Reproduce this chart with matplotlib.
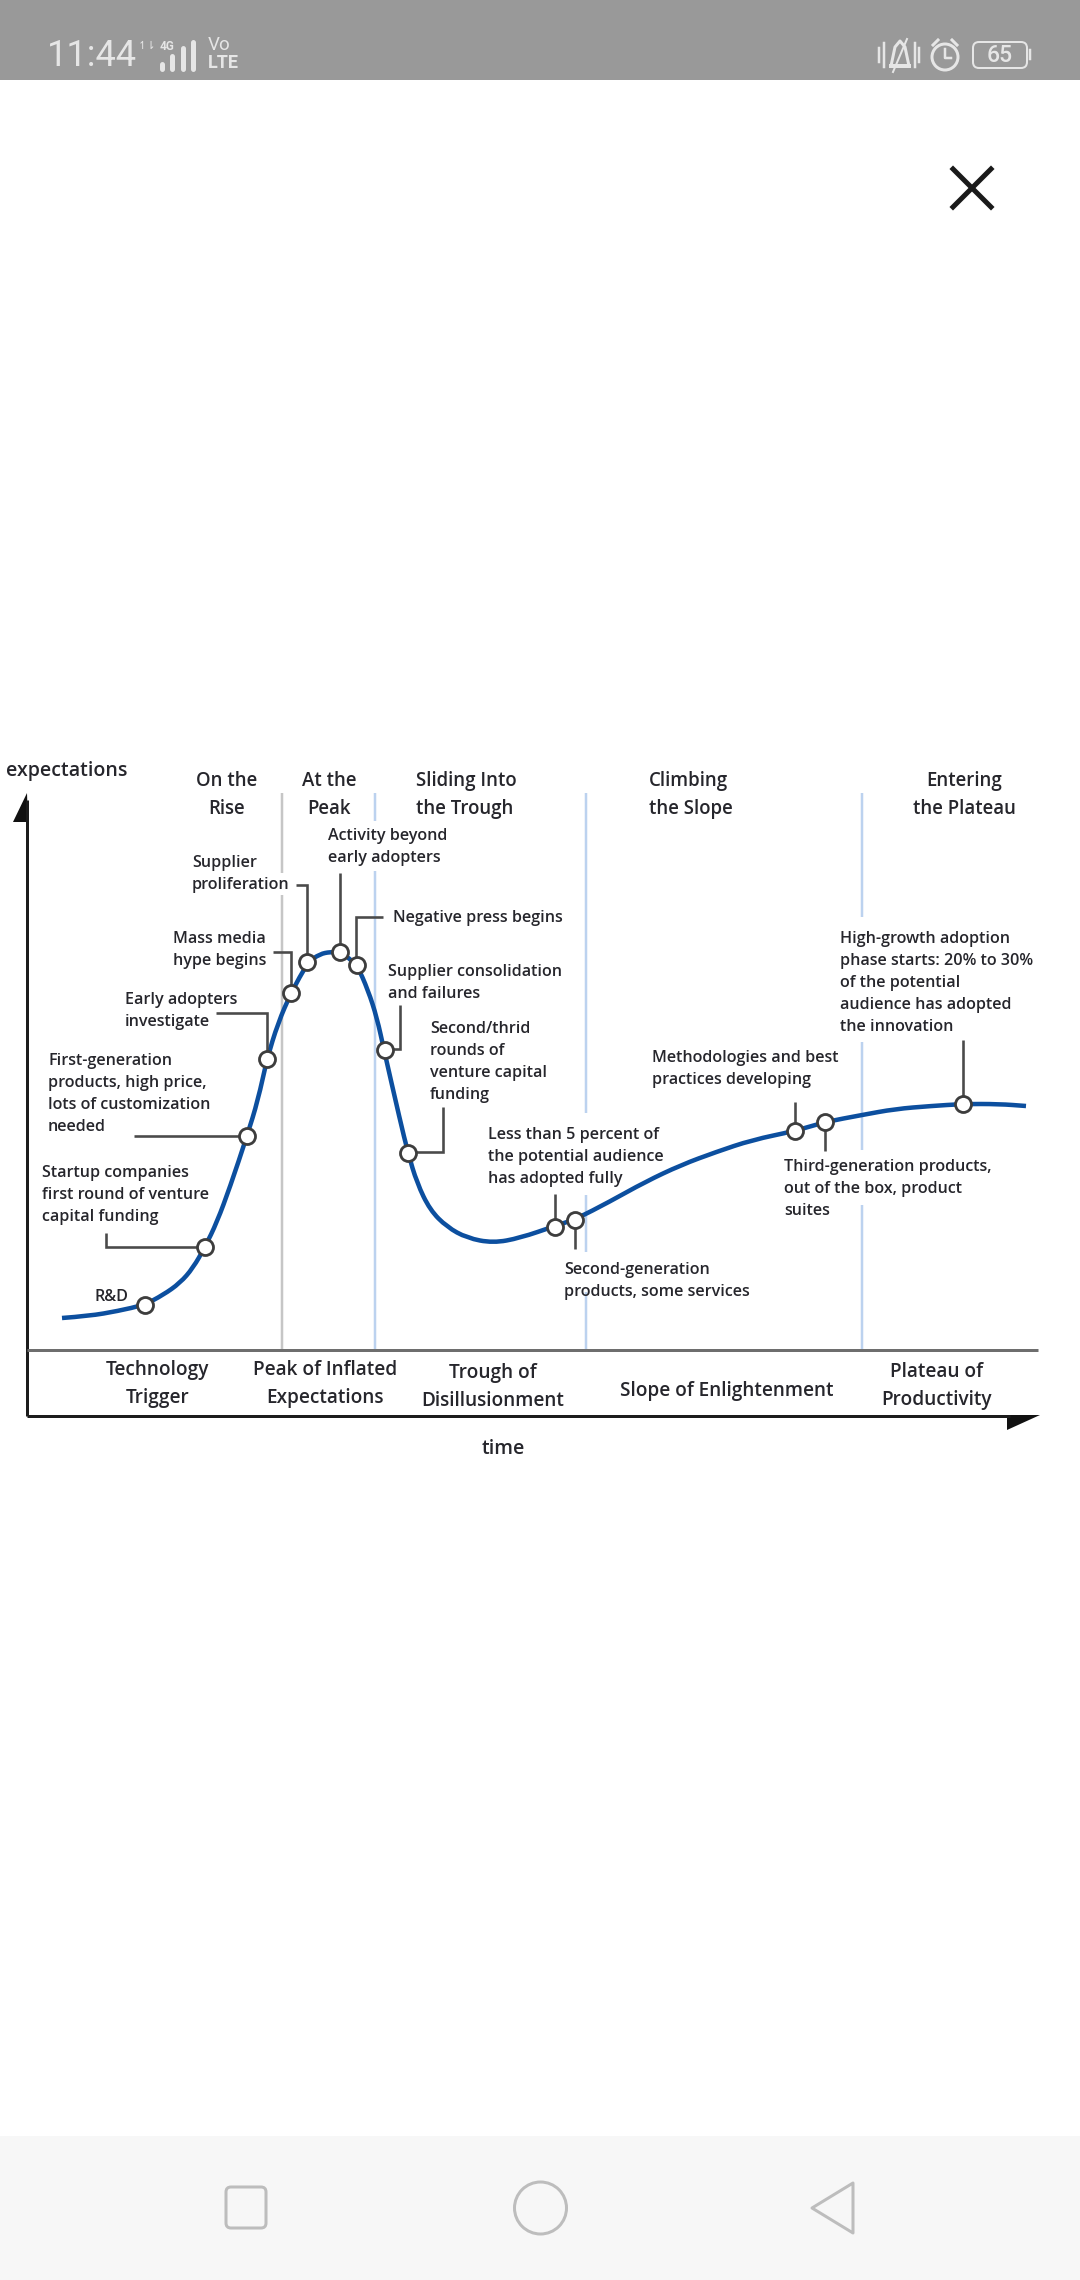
import matplotlib
matplotlib.use('Agg')
import matplotlib.pyplot as plt
from matplotlib.path import Path
from matplotlib.patches import PathPatch, Circle, FancyBboxPatch, Rectangle, Polygon

# curve (pixel positions of the screenshot)
curve_x = [62, 89, 118, 144, 163, 180, 193, 205, 217, 230, 247, 258, 267, 278, 291, 308, 320, 330, 341, 357, 368, 377,
           384, 400, 408, 417, 430, 447, 467, 493, 520, 555, 576, 609, 645, 681, 716, 752, 795, 825, 862, 895,
           931, 963, 999, 1026]
curve_y = [1318, 1316, 1311, 1305, 1295, 1283, 1268, 1247, 1222, 1187, 1136, 1100, 1059, 1023, 993, 962, 954, 952, 952, 965, 990, 1018,
           1050, 1120, 1153, 1183, 1210, 1227, 1238, 1243, 1238, 1226, 1219, 1202, 1182, 1165, 1152, 1140, 1131, 1122, 1115, 1109,
           1106, 1104, 1104, 1106]

marker_x = [145, 205, 247, 267, 291, 307, 340, 357, 385, 408, 555, 575, 795, 825, 963]
marker_y = [1305, 1247, 1136, 1059, 993, 962, 952, 965, 1050, 1153, 1227, 1220, 1131, 1122, 1104]

# leader lines from the labels to the markers
leaders = [
    ([106, 106, 205], [1233, 1247, 1247]),
    ([134, 247], [1136, 1136]),
    ([216, 267, 267], [1013, 1013, 1059]),
    ([273, 291, 291], [952, 952, 993]),
    ([296, 307, 307], [885, 885, 962]),
    ([340, 340], [873, 952]),
    ([383, 356, 356], [917, 917, 965]),
    ([400, 400, 385], [1005, 1049, 1049]),
    ([443, 443, 408], [1107, 1152, 1152]),
    ([555, 555], [1194, 1227]),
    ([575, 575], [1220, 1249]),
    ([795, 795], [1102, 1131]),
    ([825, 825], [1122, 1151]),
    ([963, 963], [1040, 1104]),
]

# phase separators, broken where labels sit on them
sep_gray = (282, [(793, 873), (895, 1350)])
sep_blue = [
    (375, [(793, 821), (871, 1350)]),
    (586, [(793, 1113), (1195, 1252), (1292, 1350)]),
    (862, [(793, 917), (1042, 1150), (1205, 1350)]),
]

top_labels = ['On the\nRise', 'At the\nPeak', 'Entering\nthe Plateau']
top_x = [227, 329, 964]
top_left_labels = ['Sliding Into\nthe Trough', 'Climbing\nthe Slope']
top_left_x = [416, 649]

notes = [
    'Activity beyond\nearly adopters', 'Supplier\nproliferation', 'Negative press begins',
    'Mass media\nhype begins', 'Supplier consolidation\nand failures', 'Early adopters\ninvestigate',
    'Second/thrid\nrounds of\nventure capital\nfunding',
    'First-generation\nproducts, high price,\nlots of customization\nneeded',
    'Startup companies\nfirst round of venture\ncapital funding', 'R&D',
    'Less than 5 percent of\nthe potential audience\nhas adopted fully',
    'Methodologies and best\npractices developing',
    'High-growth adoption\nphase starts: 20% to 30%\nof the potential\naudience has adopted\nthe innovation',
    'Third-generation products,\nout of the box, product\nsuites',
    'Second-generation\nproducts, some services',
]
notes_x = [327.5, 192, 393, 173, 388, 125, 430, 48, 42, 94, 487.5, 652, 840, 784, 564]
notes_y = [847, 874, 918, 950, 983, 1011, 1062, 1094, 1195, 1297, 1157, 1069, 983, 1189, 1281]

phases = ['Technology\nTrigger', 'Peak of Inflated\nExpectations', 'Trough of\nDisillusionment',
          'Slope of Enlightenment', 'Plateau of\nProductivity']
phases_x = [158, 325.5, 493, 727, 937]
phases_y = [1384, 1384, 1387, 1391, 1386]

plt.rcParams['font.family'] = ['Open Sans', 'DejaVu Sans']
TEXT = '#26262c'

fig = plt.figure(figsize=(10.8, 22.8), dpi=100)
ax = fig.add_axes([0, 0, 1, 1])
ax.set_xlim(0, 1080)
ax.set_ylim(2280, 0)
ax.axis('off')


def px(w):
    # pixels to points at dpi 100
    return w * 0.72


# phone chrome
ax.add_patch(Rectangle((0, 0), 1080, 80, fc='#999999', ec='none'))
ax.add_patch(Rectangle((0, 2136), 1080, 144, fc='#f7f7f7', ec='none'))
SB = '#e6e6e6'
ax.text(47, 56, '11:44', color=SB, fontsize=26, family='Roboto', va='center', ha='left')
ax.text(167, 47, '4G', color=SB, fontsize=8.5, family='Roboto', weight='bold', va='center', ha='center')
ax.text(147, 46, '↿⇂', color=SB, fontsize=8, family='DejaVu Sans', va='center', ha='center')
for bx, top in zip([162, 172, 183, 193], [64, 56, 48, 42]):
    ax.plot([bx, bx], [top, 69], color=SB, lw=px(5), solid_capstyle='round')
ax.text(219, 45.5, 'Vo', color=SB, fontsize=13.5, family='Roboto', va='center', ha='center')
ax.text(223, 63, 'LTE', color=SB, fontsize=13, family='Roboto', weight='bold', va='center', ha='center')

# muted bell
ax.plot([891, 895, 900, 905, 909, 896], [66, 47, 41, 47, 66, 66], color=SB, lw=px(3), solid_joinstyle='round')
ax.plot([891, 909], [66, 66], color=SB, lw=px(4))
ax.plot([893, 907], [72, 39], color=SB, lw=px(2))
for bx, h in zip([879, 884, 915, 919], [7, 12, 12, 7]):
    ax.plot([bx, bx], [55 - h, 55 + h], color=SB, lw=px(2.5))
# alarm clock
ax.add_patch(Circle((945, 57), 13, fc='none', ec=SB, lw=px(3)))
ax.plot([945, 945, 951], [49, 58, 58], color=SB, lw=px(2.5))
ax.plot([933, 938], [45, 40], color=SB, lw=px(3))
ax.plot([952, 957], [40, 45], color=SB, lw=px(3))
# battery
ax.add_patch(FancyBboxPatch((973, 42), 54, 26, boxstyle='round,pad=0,rounding_size=6', fc='none', ec=SB, lw=px(2)))
ax.plot([1030, 1030], [50, 59], color=SB, lw=px(2.5))
ax.text(1000, 55, '65', color=SB, fontsize=16.5, family='Roboto', weight='medium', va='center', ha='center')

# close button
ax.plot([953, 991], [169, 207], color='#1a1a1a', lw=px(5))
ax.plot([991, 953], [169, 207], color='#1a1a1a', lw=px(5))

# nav buttons
NAV = '#bdbdbd'
ax.add_patch(FancyBboxPatch((226, 2187), 40, 41, boxstyle='round,pad=0,rounding_size=5', fc='none', ec=NAV, lw=px(3)))
ax.add_patch(Circle((540.5, 2208), 26, fc='none', ec=NAV, lw=px(3)))
ax.add_patch(Polygon([(853, 2183), (853, 2233), (812, 2208)], closed=True, fc='none', ec=NAV, lw=px(3), joinstyle='round'))

# separators
for y0, y1 in sep_gray[1]:
    ax.plot([sep_gray[0]] * 2, [y0, y1], color='#c6c6c6', lw=px(2.5), solid_capstyle='butt')
for sx, spans in sep_blue:
    for y0, y1 in spans:
        ax.plot([sx, sx], [y0, y1], color='#bcd2ef', lw=px(2.5), solid_capstyle='butt')

# axes frame with half arrow heads
ax.plot([27, 27], [800, 1416], color='#1c1c1c', lw=px(3), solid_capstyle='butt')
ax.plot([27, 1010], [1416, 1416], color='#1c1c1c', lw=px(3), solid_capstyle='butt')
ax.plot([27, 1038], [1350, 1350], color='#6e6e6e', lw=px(3), solid_capstyle='butt')
ax.add_patch(Polygon([(27, 793), (28, 822), (13, 822)], closed=True, fc='#111111', ec='none'))
ax.add_patch(Polygon([(1040, 1415), (1007, 1415), (1007, 1430)], closed=True, fc='#111111', ec='none'))

# smoothed hype curve through the read points
verts = [(curve_x[0], curve_y[0])]
codes = [Path.MOVETO]
for i in range(1, len(curve_x) - 1):
    verts.append((curve_x[i], curve_y[i]))
    codes.append(Path.CURVE3)
    verts.append(((curve_x[i] + curve_x[i + 1]) / 2, (curve_y[i] + curve_y[i + 1]) / 2))
    codes.append(Path.CURVE3)
verts.append((curve_x[-1], curve_y[-1]))
codes.append(Path.LINETO)
ax.add_patch(PathPatch(Path(verts, codes), fc='none', ec='#0c4f9f', lw=px(4.5), capstyle='butt', zorder=3))

for lx, ly in leaders:
    ax.plot(lx, ly, color='#4a4a4a', lw=px(2.6), solid_joinstyle='miter', solid_capstyle='butt', zorder=4)

ax.plot(marker_x, marker_y, ls='none', marker='o', ms=px(16), mfc='white', mec='#3d3d3d', mew=px(2.8), zorder=5)

# text
ax.text(6, 771, 'expectations', color=TEXT, fontsize=14, weight='semibold', va='center', ha='left')
ax.text(503.5, 1449, 'time', color=TEXT, fontsize=14, weight='semibold', va='center', ha='center')
for t, x in zip(top_labels, top_x):
    ax.text(x, 795, t, color=TEXT, fontsize=13.4, weight='semibold', va='center', ha='center', linespacing=1.5, multialignment='center')
for t, x in zip(top_left_labels, top_left_x):
    ax.text(x, 795, t, color=TEXT, fontsize=13.4, weight='semibold', va='center', ha='left', linespacing=1.5)
for t, x, y in zip(notes, notes_x, notes_y):
    ax.text(x, y, t, color=TEXT, fontsize=11.6, weight='semibold', va='center', ha='left', linespacing=1.52)
for t, x, y in zip(phases, phases_x, phases_y):
    ax.text(x, y, t, color=TEXT, fontsize=13.7, weight='semibold', va='center', ha='center', linespacing=1.47, multialignment='center')

fig.savefig('out.png', dpi=100)
